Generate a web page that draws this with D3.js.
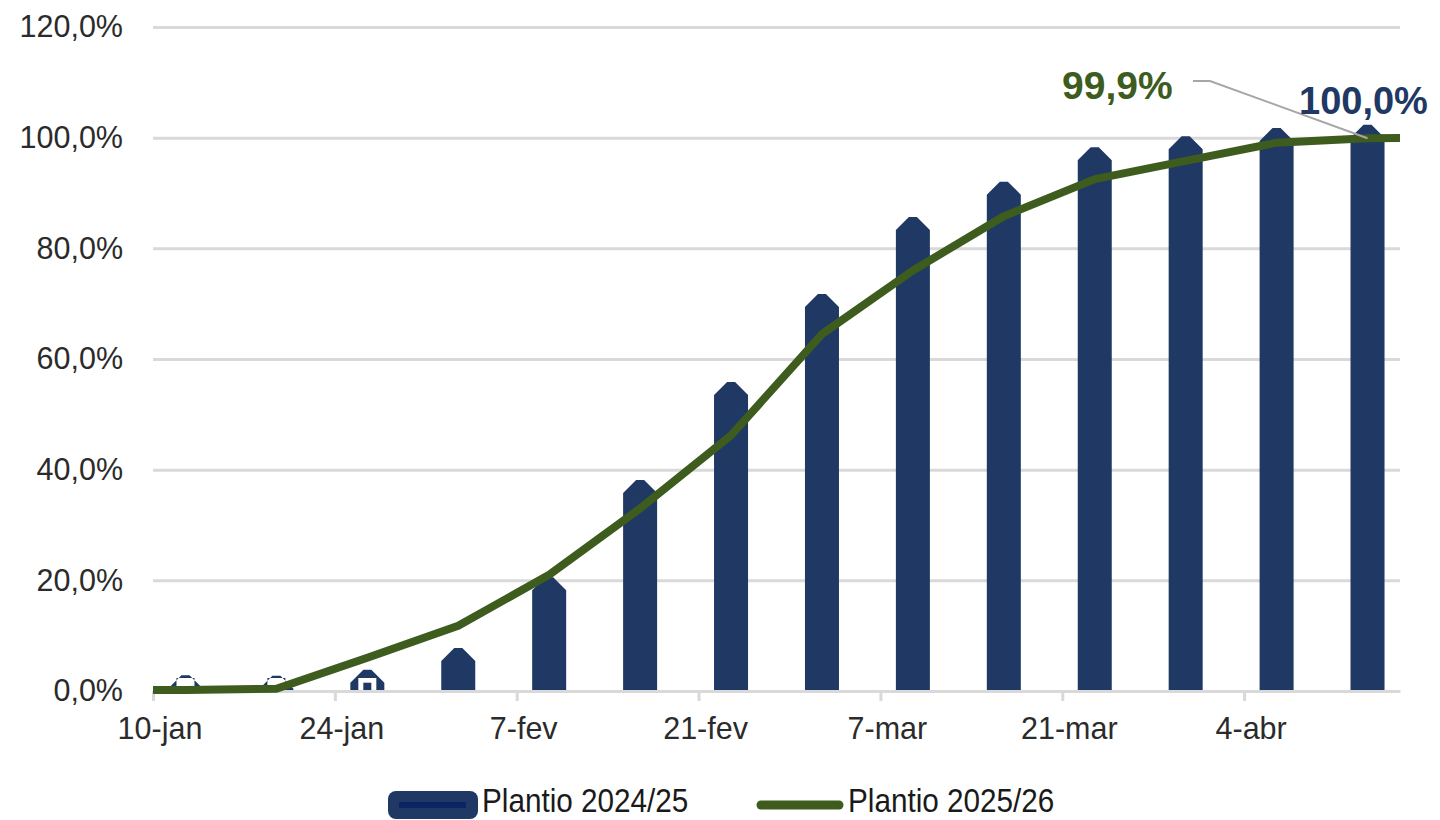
<!DOCTYPE html>
<html>
<head>
<meta charset="utf-8">
<script src="https://cdn.jsdelivr.net/npm/d3@7"></script>
<style>
  html, body { margin: 0; padding: 0; background: #ffffff; }
  svg { display: block; font-family: "Liberation Sans", Arial, sans-serif; }
</style>
</head>
<body>
<svg id="chart" width="1440" height="820"></svg>
<script>
// ---------------- DATA ----------------
const barDates = ["12-jan","19-jan","26-jan","2-fev","9-fev","16-fev","23-fev","2-mar","9-mar","16-mar","23-mar","30-mar","6-abr","13-abr"];
const plantio2425 = [0.5, 0.4, 1.5, 5.4, 18.2, 35.8, 53.5, 69.4, 83.3, 89.7, 95.9, 97.9, 99.4, 100.0];

const lineDates = ["5-jan","12-jan","19-jan","26-jan","2-fev","9-fev","16-fev","23-fev","2-mar","9-mar","16-mar","23-mar","30-mar","6-abr","13-abr","20-abr"];
const plantio2526 = [0.1, 0.2, 0.4, 6.0, 11.8, 21.0, 33.0, 46.2, 64.5, 76.0, 85.8, 92.5, 95.8, 99.1, 99.9, 100.0];

const xTickLabels = ["10-jan","24-jan","7-fev","21-fev","7-mar","21-mar","4-abr"];
const xDomainLabels = ["10-jan","16-abr"];
const yTicks = [0, 20, 40, 60, 80, 100, 120];
const seriesNames = ["Plantio 2024/25", "Plantio 2025/26"];
const labelLine = "99,9%";
const labelBar = "100,0%";

// ---------------- SETUP ----------------
const months = {jan: 0, fev: 1, mar: 2, abr: 3};
const parse = s => { const [d, m] = s.split("-"); return new Date(Date.UTC(2026, months[m], +d)); };
const HALF_DAY = 12 * 3600 * 1000;
const mid = s => new Date(parse(s).getTime() + HALF_DAY);

const navy = "#1f3864", navyDark = "#0c2463", green = "#3d5c1e", grid = "#d9d9d9", txt = "#2b2b2b";
const L = 153, R = 1400, T = 27, B = 691;

const svg = d3.select("#chart");
const x = d3.scaleUtc().domain(xDomainLabels.map(parse)).range([L, R]);
const y = d3.scaleLinear().domain([0, 120]).range([B, T]);

const loc = d3.formatLocale({decimal: ",", thousands: ".", grouping: [3], currency: ["", ""]});
const fmt = v => loc.format(".1f")(v) + "%";

// grid + y axis
const yAx = svg.append("g").attr("transform", `translate(${L},0)`)
  .call(d3.axisLeft(y).tickValues(yTicks).tickSize(-(R - L)).tickPadding(30).tickFormat(fmt));
yAx.select(".domain").remove();
yAx.selectAll(".tick line").attr("stroke", grid).attr("stroke-width", 3);
yAx.selectAll(".tick text").attr("fill", txt).attr("font-size", 30.5)
  .attr("font-family", "'Liberation Sans', Arial, sans-serif");

// clip for plot
svg.append("clipPath").attr("id", "plotClip").append("rect")
  .attr("x", L).attr("y", 0).attr("width", R - L).attr("height", B);

const plot = svg.append("g").attr("clip-path", "url(#plotClip)");

// bars: rect with thick bevelled border
const w = 8, r = 13;
const barPath = (cx, v) => {
  const x0 = cx - w / 2, y0 = y(v), yb = y(0);
  const outer = [[x0 - r, y0], [x0, y0 - r], [x0 + w, y0 - r], [x0 + w + r, y0],
                 [x0 + w + r, yb], [x0 + w, yb + r], [x0, yb + r], [x0 - r, yb]];
  const TL = [x0 + r, y0 + r], TR = [x0 + w - r, y0 + r], BR = [x0 + w - r, yb - r], BL = [x0 + r, yb - r];
  const inner = [TL, BL, BR, TR];
  const p = pts => "M" + pts.map(q => q.join(",")).join("L") + "Z";
  return p(outer) + p(inner);
};
const bars = plot.append("g");
barDates.forEach((d, i) => {
  const cx = x(mid(d));
  bars.append("rect").attr("x", cx - w / 2).attr("y", y(plantio2425[i]))
    .attr("width", w).attr("height", y(0) - y(plantio2425[i])).attr("fill", navy);
  bars.append("path").attr("d", barPath(cx, plantio2425[i])).attr("fill", navy).attr("fill-rule", "nonzero");
});

// x axis
const xAx = svg.append("g").attr("transform", `translate(0,${B})`)
  .call(d3.axisBottom(x).tickValues(xTickLabels.map(parse)).tickSize(10).tickSizeOuter(0)
    .tickFormat((d, i) => xTickLabels[i]));
xAx.select(".domain").attr("stroke", grid).attr("stroke-width", 3);
xAx.selectAll(".tick line").attr("stroke", grid).attr("stroke-width", 3);
xAx.selectAll(".tick text").attr("fill", txt).attr("font-size", 30.5)
  .attr("font-family", "'Liberation Sans', Arial, sans-serif")
  .attr("x", x(mid(xTickLabels[0])) - x(parse(xTickLabels[0])))
  .attr("y", 48).attr("dy", null);

// line
const line = d3.line().x(d => x(mid(d))).y((d, i) => y(plantio2526[i]));
svg.append("clipPath").attr("id", "lineClip").append("rect")
  .attr("x", L).attr("y", 0).attr("width", R - L).attr("height", 820);
svg.append("path").attr("clip-path", "url(#lineClip)")
  .attr("d", line(lineDates)).attr("fill", "none").attr("stroke", green)
  .attr("stroke-width", 8).attr("stroke-linejoin", "round");

// leader line and labels
const lastI = lineDates.indexOf("13-abr");
const lx = x(mid("13-abr")), ly = y(plantio2526[lastI]);
svg.append("path").attr("d", `M1193,81L1210,81L${lx},${ly}`)
  .attr("fill", "none").attr("stroke", "#a6a6a6").attr("stroke-width", 2);
svg.append("text").attr("x", 1062).attr("y", 99).attr("font-size", 39).attr("font-weight", "bold")
  .attr("fill", green).text(labelLine);
svg.append("text").attr("x", 1299).attr("y", 114).attr("font-size", 38).attr("font-weight", "bold")
  .attr("fill", navy).text(labelBar);

// legend
const lg = svg.append("g");
lg.append("rect").attr("x", 388).attr("y", 791).attr("width", 90).attr("height", 28).attr("rx", 8).attr("fill", navy);
lg.append("line").attr("x1", 399).attr("x2", 466).attr("y1", 805).attr("y2", 805)
  .attr("stroke", navyDark).attr("stroke-width", 6);
lg.append("text").attr("transform", "translate(482,812) scale(0.874,1)")
  .attr("font-size", 34).attr("fill", "#1a1a1a").text(seriesNames[0]);
lg.append("line").attr("x1", 761).attr("x2", 839).attr("y1", 805).attr("y2", 805)
  .attr("stroke", green).attr("stroke-width", 9).attr("stroke-linecap", "round");
lg.append("text").attr("transform", "translate(848,812) scale(0.874,1)")
  .attr("font-size", 34).attr("fill", "#1a1a1a").text(seriesNames[1]);
</script>
</body>
</html>
